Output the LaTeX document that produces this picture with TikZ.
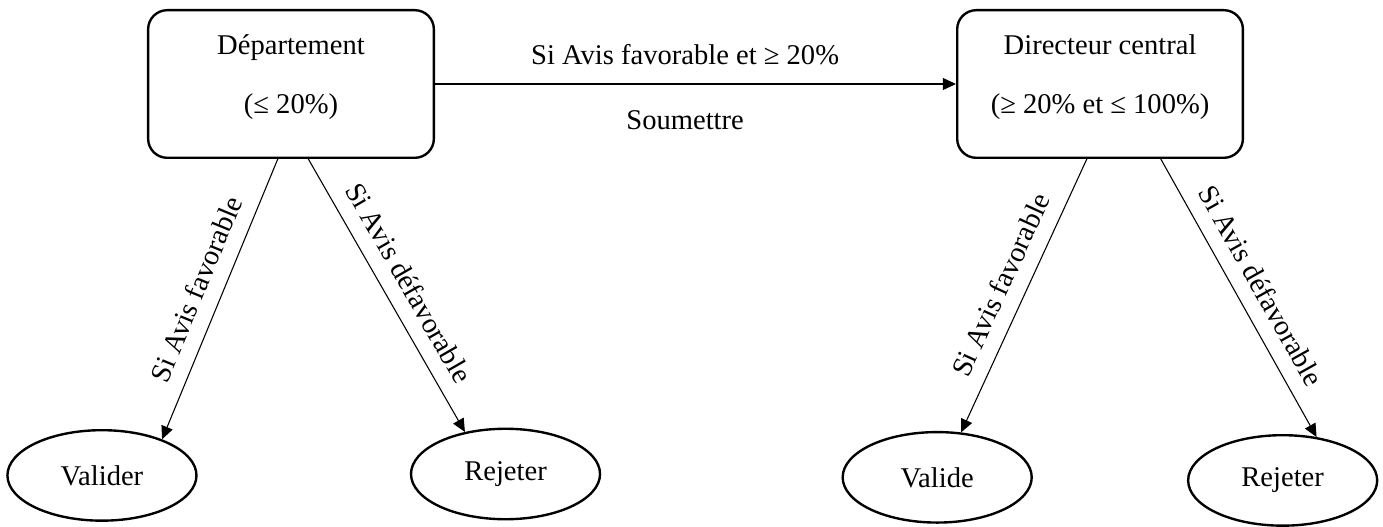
\documentclass[tikz,border=0pt]{standalone}
\usepackage{fontspec}
\setmainfont{Liberation Serif}
\usetikzlibrary{positioning,shapes.geometric,arrows.meta}

\begin{document}
\begin{tikzpicture}[x=0.42pt,y=-0.42pt,
  font=\fontsize{12}{14.5}\selectfont,
  bloc/.style={draw, line width=1pt, rounded corners=8pt, minimum width=120pt, minimum height=62pt, align=center},
  issue/.style={draw, ellipse, line width=1pt, minimum width=79.4pt, minimum height=38pt, inner sep=0pt},
  fleche/.style={-{Triangle[length=5.5pt,width=5pt]}, line width=0.45pt},
  cond/.style={midway, sloped, above=3pt}]

  \useasboundingbox (0,0) rectangle (1383,527);

  % Nodes (empty last line lifts the text a little in the box)

  \node[bloc]   (dept)   at (291,84)   {Département\\[10.5pt](≤ 20\%)\\[-6pt]\mbox{}} ; %
  \node[bloc, right=218.8pt of dept]   (dirCentral)   {Directeur central\\[10.5pt](≥ 20\% et ≤ 100\%)\\[-6pt]\mbox{}} ; %

  \node[issue, below=113.4pt of dept, xshift=-79.4pt]   (validerDept)   {Valider} ; %
  \node[issue, below=112.8pt of dept, xshift=90.1pt]    (rejeterDept)   {Rejeter} ; %

  \node[issue, below=114.2pt of dirCentral, xshift=-68.4pt]   (valideDir)    {Valide} ; %
  \node[issue, below=115.5pt of dirCentral, xshift=76.7pt]    (rejeterDir)   {Rejeter} ; %

  % Edges

  \draw[fleche] (dept) -- node[pos=0.48, above=4.5pt] {Si Avis favorable et ≥ 20\%}
                          node[pos=0.48, below=7.5pt] {Soumettre} (dirCentral) ;

  \draw[fleche] (dept.260) -- node[cond] {Si Avis favorable} (validerDept.31) ;
  \draw[fleche] (dept.283) -- node[cond] {Si Avis défavorable} (rejeterDept.134) ;

  \draw[fleche] (dirCentral.260) -- node[cond] {Si Avis favorable} (valideDir.62) ;
  \draw[fleche] (dirCentral.309) -- node[cond] {Si Avis défavorable} (rejeterDir.52) ;

\end{tikzpicture}
\end{document}
